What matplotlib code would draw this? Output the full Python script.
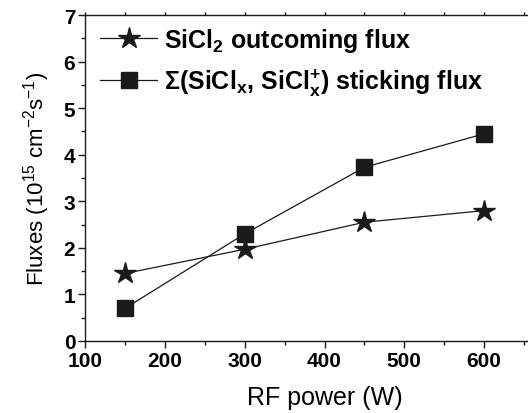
import matplotlib
matplotlib.use("Agg")
import matplotlib.pyplot as plt
from matplotlib.ticker import MultipleLocator

plt.rcParams['font.family'] = ['Liberation Sans', 'DejaVu Sans']
plt.rcParams['mathtext.default'] = 'regular'

power = [150, 300, 450, 600]
sicl2_out = [1.45, 1.97, 2.55, 2.80]
sticking = [0.70, 2.30, 3.73, 4.45]

label_out = "SiCl$_2$ outcoming flux"
label_stick = "\u03A3(SiCl$_x$, SiCl$_x^{+}$) sticking flux"

col = '#1a1a1a'
fig = plt.figure(figsize=(5.28, 4.14), dpi=100)
ax = fig.add_axes([85/528, 72/414, 479/528, 326/414])

ax.plot(power, sicl2_out, '-', color=col, lw=0.9, marker='*', ms=16,
        label=label_out)
ax.plot(power, sticking, '-', color=col, lw=0.9, marker='s', ms=11,
        label=label_stick)

ax.set_xlim(100, 700)
ax.set_ylim(0, 7)
ax.xaxis.set_major_locator(MultipleLocator(100))
ax.xaxis.set_minor_locator(MultipleLocator(50))
ax.yaxis.set_major_locator(MultipleLocator(1))
ax.yaxis.set_minor_locator(MultipleLocator(0.5))
ax.set_xticks([100, 200, 300, 400, 500, 600])
ax.set_xticklabels(['100', '200', '300', '400', '500', '600'])

ax.tick_params(which='both', direction='out', right=False, top=False,
               width=1.0, color=col)
ax.tick_params(which='major', length=5, labelsize=15, pad=2)
ax.tick_params(which='minor', length=3)
ax.tick_params(axis='x', which='both', top=True)
for lab in ax.get_xticklabels() + ax.get_yticklabels():
    lab.set_fontweight('bold')
for s in ax.spines.values():
    s.set_linewidth(1.0)
    s.set_color(col)
# top ticks are tiny
for t in ax.xaxis.get_major_ticks() + ax.xaxis.get_minor_ticks():
    t.tick2line.set_markersize(2)

ax.set_xlabel("RF power (W)", fontsize=18, labelpad=11)
ax.set_ylabel("Fluxes (10$^{15}$ cm$^{-2}$s$^{-1}$)", fontsize=16, labelpad=8)

leg = ax.legend(loc='upper left', frameon=False, handlelength=2.3,
                handletextpad=0.25, labelspacing=0.5,
                bbox_to_anchor=(0.031, 0.967), borderaxespad=0, borderpad=0,
                prop={'weight': 'bold', 'size': 18})

fig.savefig("out.png", dpi=100)
